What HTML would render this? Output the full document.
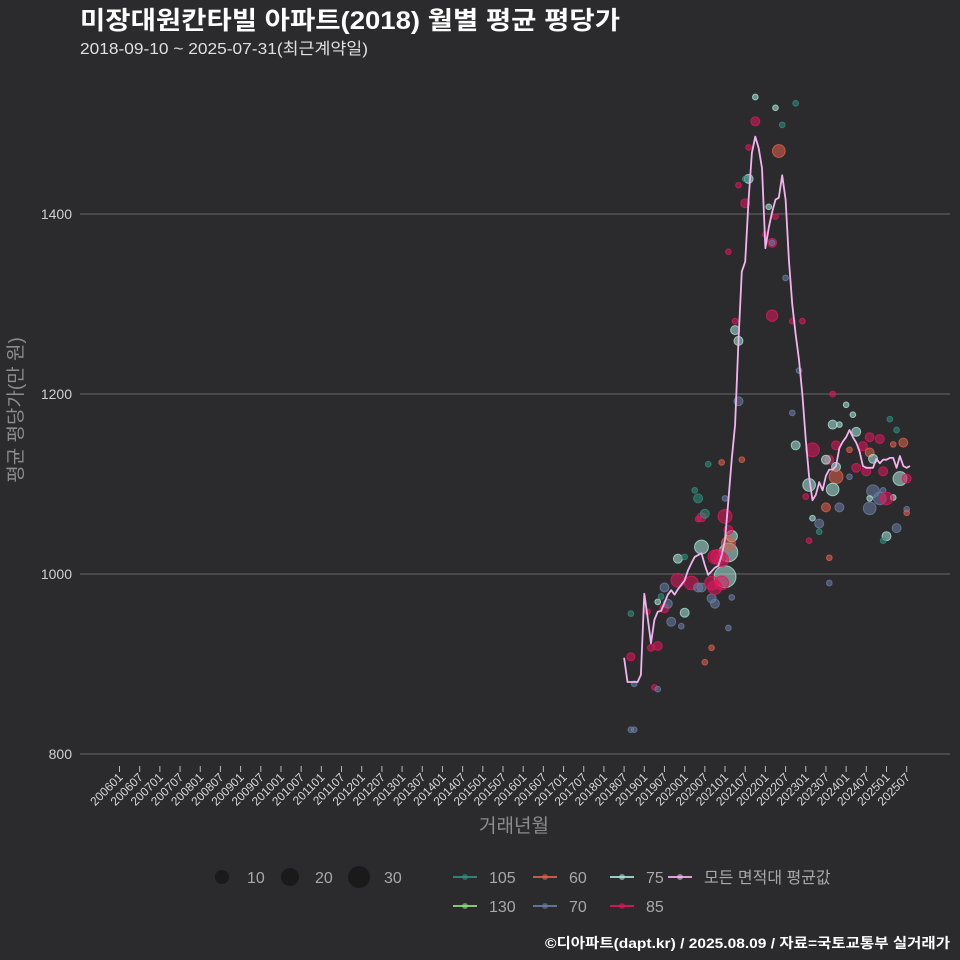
<!DOCTYPE html>
<html><head><meta charset="utf-8">
<style>
html,body{margin:0;padding:0;background:#2b2b2d;}
svg{display:block;font-family:"Liberation Sans","Noto Sans CJK KR",sans-serif;}
</style></head>
<body>
<svg id="chart" width="960" height="960" viewBox="0 0 960 960">
<rect x="0" y="0" width="960" height="960" fill="#2b2b2d"/>
<text x="80" y="29" font-size="25" font-weight="bold" fill="#ffffff" textLength="540" lengthAdjust="spacingAndGlyphs">미장대원칸타빌 아파트(2018) 월별 평균 평당가</text>
<text x="80" y="54" font-size="16" fill="#e0e0e0" textLength="288" lengthAdjust="spacingAndGlyphs">2018-09-10 ~ 2025-07-31(최근계약일)</text>
<g id="grid"></g>
<g id="yaxis"></g>
<g id="xaxis"></g>
<g id="points"></g>
<g id="meanline"></g>
<text transform="translate(22,410) rotate(-90)" text-anchor="middle" font-size="19" fill="#8c8c8c">평균 평당가(만 원)</text>
<text x="514" y="832" text-anchor="middle" font-size="19" fill="#8c8c8c">거래년월</text>
<g id="legend"></g>
<text x="950" y="948" text-anchor="end" font-size="14" font-weight="bold" fill="#ffffff" textLength="405" lengthAdjust="spacingAndGlyphs">©디아파트(dapt.kr) / 2025.08.09 / 자료=국토교통부 실거래가</text>
</svg>
<script>
const yTicks = [800, 1000, 1200, 1400];
const xTickLabels = ["200601","200607","200701","200707","200801","200807","200901","200907","201001","201007","201101","201107","201201","201207","201301","201307","201401","201407","201501","201507","201601","201607","201701","201707","201801","201807","201901","201907","202001","202007","202101","202107","202201","202207","202301","202307","202401","202407","202501","202507"];
const meanStart = "201807";
const meanValues = [907,880,880,880,880,888,978,952,923,949,958,959,968,977,982,977,983,988,993,1004,1012,1019,1021,1023,1010,999,1003,1007,1009,1021,1038,1082,1127,1166,1260,1336,1347,1416,1468,1486,1473,1451,1362,1385,1402,1416,1418,1443,1416,1349,1299,1266,1238,1199,1149,1108,1082,1088,1102,1093,1109,1116,1116,1120,1140,1147,1152,1160,1152,1146,1136,1120,1118,1118,1118,1128,1123,1127,1127,1129,1129,1118,1131,1120,1118,1120];
const ptMonth = ["201809","201810","201809","201810","201903","201905","201906","201907","201905","201904","201905","201809","201902","201909","201912","202001","201908","201907","201911","202001","201911","202003","202005","202006","202009","202010","202009","202007","202102","202103","202101","202102","202103","202102","202010","202012","202011","202006","202101","202006","202005","202007","202005","202004","202008","202012","202102","202012","202106","202101","202009","202010",
"202110","202204","202210","202206","202110","202108","202205","202108","202107","202105","202107","202202","202204","202201","202203","202203","202102","202207","202203","202104","202209","202212","202104","202105","202211","202105","202209",
"202401","202403","202309","202502","202504","202309","202311","202404","202408","202411","202506","202503","202310","202210","202303","202402","202406","202408","202409","202308","202307","202310","202404","202407","202412","202402","202310","202505","202507","202302","202309","202412","202409","202301","202408","202411","202503","202501","202307","202311","202408","202507","202507","202303","202305","202305","202504","202501","202412","202302","202308","202308"];
const ptValue = [908,878,956,827,918,969,975,962,920,874,872,827,958,947,942,957,967,985,1017,1019,993,990,985,985,973,967,918,902,940,974,997,1024,1042,1034,1019,1016,1019,1030,1064,1063,1061,1067,1084,1093,1122,1124,1049,990,1127,1084,990,985,
1530,1518,1523,1499,1503,1474,1470,1439,1439,1432,1412,1408,1397,1377,1368,1368,1358,1329,1287,1281,1281,1281,1271,1259,1226,1192,1179,
1188,1177,1200,1172,1160,1166,1166,1158,1152,1150,1146,1144,1143,1143,1138,1138,1142,1135,1128,1127,1127,1119,1118,1114,1114,1108,1108,1106,1106,1099,1094,1093,1092,1086,1084,1084,1085,1084,1074,1074,1073,1072,1068,1062,1056,1047,1051,1042,1037,1037,1018,990];
const ptCount = [4,2,2,2,3,2,2,5,5,2,2,2,2,5,2,5,5,5,5,2,12,12,5,5,5,5,2,2,2,2,30,22,8,12,12,12,14,12,12,5,2,5,5,2,2,2,5,12,2,2,12,12,
2,2,2,2,5,2,10,5,2,2,5,2,2,2,5,2,2,2,8,2,2,2,5,5,2,5,2,
2,2,2,2,2,5,2,5,5,5,5,2,5,5,12,2,5,5,5,5,5,5,5,5,5,2,12,12,5,10,10,2,10,2,2,10,2,10,5,5,10,2,2,2,5,2,5,5,2,2,2,2];
const ptSeries = ["85","70","105","70","85","75","105","85","85","85","70","70","85","70","70","75","70","70","75","105","85","85","70","70","70","70","60","60","70","70","75","75","75","60","85","85","85","75","85","85","85","105","105","105","105","60","85","85","60","70","85","85",
"75","75","105","105","85","85","60","75","105","85","85","75","85","85","85","70","85","70","85","85","85","85","75","75","70","70","70",
"75","75","85","105","105","75","75","75","85","85","60","60","85","75","85","60","85","60","75","85","75","75","85","85","85","70","60","75","85","75","75","70","70","85","75","70","75","85","60","70","70","70","60","75","70","105","70","75","105","85","60","70"];
const seriesColor = {"105":"#2f8f80","60":"#e0604c","75":"#a9e3da","130":"#8ee07a","70":"#6a7ea4","85":"#e0185c"};

const NS = "http://www.w3.org/2000/svg";
const X0 = 119.5, PXM = 3.364;
function monthIndex(s){ return (parseInt(s.slice(0,4))-2006)*12 + parseInt(s.slice(4,6))-1; }
function xScale(s){ return X0 + monthIndex(s)*PXM; }
function xIdx(m){ return X0 + m*PXM; }
function yScale(v){ return 754 - (v-800)*0.9; }
function mk(tag, attrs, parent){ const e=document.createElementNS(NS,tag); for(const k in attrs) e.setAttribute(k,attrs[k]); parent.appendChild(e); return e; }

const grid=document.getElementById('grid'), ya=document.getElementById('yaxis'), xa=document.getElementById('xaxis');
yTicks.forEach(v=>{
  const l=mk('line',{x1:80,x2:950,y1:yScale(v),y2:yScale(v),stroke:'#6a6a6a','stroke-width':1},grid);
  
  
  const t=mk('text',{x:72,y:yScale(v)+5,'text-anchor':'end','font-size':14,fill:'#cfcfcf'},ya);
  t.textContent=v;
  
  
});
xTickLabels.forEach(s=>{
  const x=xScale(s);
  const tk=mk('line',{x1:x,x2:x,y1:766,y2:772,stroke:'#bbbbbb','stroke-width':1},xa);
  
  
  const t=mk('text',{transform:`translate(${x+4},${778}) rotate(-45)`,'text-anchor':'end','font-size':12,fill:'#d8d8d8'},xa);
  t.textContent=s;
  
  
});

const pg=document.getElementById('points');
ptMonth.forEach((m,i)=>{
  const col=seriesColor[ptSeries[i]];
  const c=mk('circle',{cx:xScale(m),cy:yScale(ptValue[i]),r:2*Math.sqrt(ptCount[i]),fill:col,'fill-opacity':0.55,stroke:col,'stroke-opacity':0.8,'stroke-width':1},pg);
  
  
});

const s0=monthIndex(meanStart);
const d=meanValues.map((v,i)=>(i?'L':'M')+xIdx(s0+i).toFixed(1)+','+yScale(v).toFixed(1)).join(' ');
const ml=mk('path',{d:d,fill:'none',stroke:'#f2b4ef','stroke-width':1.8,'stroke-linejoin':'round'},document.getElementById('meanline'));



const lg=document.getElementById('legend');
[[222,7,"10"],[290,9,"20"],[359,11,"30"]].forEach(([x,r,lab])=>{
  const c=mk('circle',{cx:x,cy:877,r:r,fill:'#1a1a1a'},lg);
  
  
  const t=mk('text',{x:x+25,y:883,'font-size':16,fill:'#a8a8a8'},lg);
  t.textContent=lab;
  
  
});
const legItems=[[453,877,'#2f8f80','105'],[533,877,'#e0604c','60'],[610,877,'#a9e3da','75'],[668,877,'#f2b4ef','모든 면적대 평균값'],[453,906,'#8ee07a','130'],[533,906,'#6a7ea4','70'],[610,906,'#e0185c','85']];
legItems.forEach(([x,y,col,lab])=>{
  const l=mk('line',{x1:x,x2:x+24,y1:y,y2:y,stroke:col,'stroke-width':1.8},lg);
  
  
  const c=mk('circle',{cx:x+12,cy:y,r:3,fill:col,'fill-opacity':0.6},lg);
  
  
  const t=mk('text',{x:x+36,y:y+6,'font-size':16,fill:'#a8a8a8'},lg);
  t.textContent=lab;
  
  
});
</script>
</body></html>
